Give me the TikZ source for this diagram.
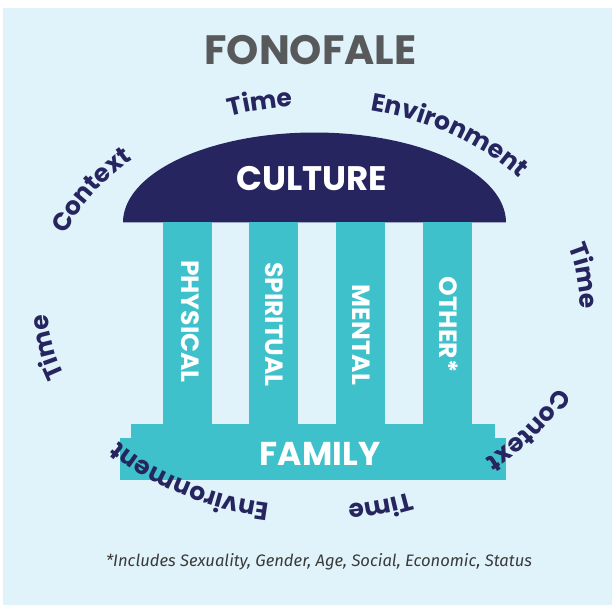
\documentclass[tikz,border=0pt]{standalone}
\usepackage{fontspec}
\setmainfont{Poppins}
\newfontfamily\footfont{Fira Sans}
\usetikzlibrary{decorations.text}
\definecolor{bgc}{HTML}{E0F3FA}
\definecolor{navy}{HTML}{27255F}
\definecolor{tealc}{HTML}{3FC1CB}
\definecolor{titlegray}{HTML}{58595B}
\definecolor{footgray}{HTML}{3A3A3A}
\newcommand\ringfont{\bfseries\fontsize{25}{25}\selectfont}
% #1 = centre angle, #2 = half span, #3 = text
\newcommand\ringlabel[3]{%
  \path[decorate, decoration={text along path, text={|\ringfont|#3}, text align=center, text color=navy}]
    plot[domain={#1-#2}:{#1+#2}, samples=90] ({314+266*cos(\x)},{306+200*sin(\x)});}
\tikzset{
  pillar/.style={fill=tealc},
  pillarlabel/.style={rotate=-90, text=white, inner sep=0pt, font=\bfseries\fontsize{25}{25}\selectfont},
  biglabel/.style={text=white, inner sep=0pt, font=\bfseries\fontsize{34}{34}\selectfont},
}
\begin{document}
\begin{tikzpicture}[x=1pt,y=-1pt]
\useasboundingbox (0,0) rectangle (614,607);
\fill[bgc] (3,8) rectangle (612,605);
% title
\node[font=\bfseries\fontsize{41}{41}\selectfont, text=titlegray, inner sep=0pt] (title) at (310.5,50.5) {FONOFALE};
% roof
\fill[navy] plot[domain=180:360, samples=150] ({314.5+191.5*cos(\x)},{222.5+90*sin(\x)}) -- cycle;
\node[biglabel] (culture) at (311.5,178.5) {CULTURE};
% pillars
\fill[pillar] (163.3,222) rectangle (211.7,430);
\fill[pillar] (249,222) rectangle (297.5,430);
\fill[pillar] (336,222) rectangle (384.5,430);
\fill[pillar] (423,222) rectangle (471.7,430);
\node[pillarlabel] (physical) at (190,321.5) {PHYSICAL};
\node[pillarlabel] (spiritual) at (274.5,324.5) {SPIRITUAL};
\node[pillarlabel] (mental) at (361,335) {MENTAL};
\node[pillarlabel] (other) at (448.7,324.5) {OTHER*};
% base
\fill[pillar] (131,424) rectangle (495,440);
\fill[pillar] (120,438) rectangle (506,480);
\node[biglabel, font=\bfseries\fontsize{33}{33}\selectfont] (family) at (320,454) {FAMILY};
% ring labels
\ringlabel{-102}{28}{Time}
\ringlabel{-55.5}{48}{Environment}
\ringlabel{-7.7}{28}{Time}
\ringlabel{34.3}{38}{Context}
\ringlabel{75}{28}{Time}
\ringlabel{121.5}{48}{Environment}
\ringlabel{169.3}{28}{Time}
\ringlabel{211.4}{38}{Context}
% footnote
\node[font=\footfont\itshape\fontsize{16.6}{16.6}\selectfont, text=footgray, anchor=base, inner sep=0pt] (note) at (319,566) {*Includes Sexuality, Gender, Age, Social, Economic, Status};
\end{tikzpicture}
\end{document}
